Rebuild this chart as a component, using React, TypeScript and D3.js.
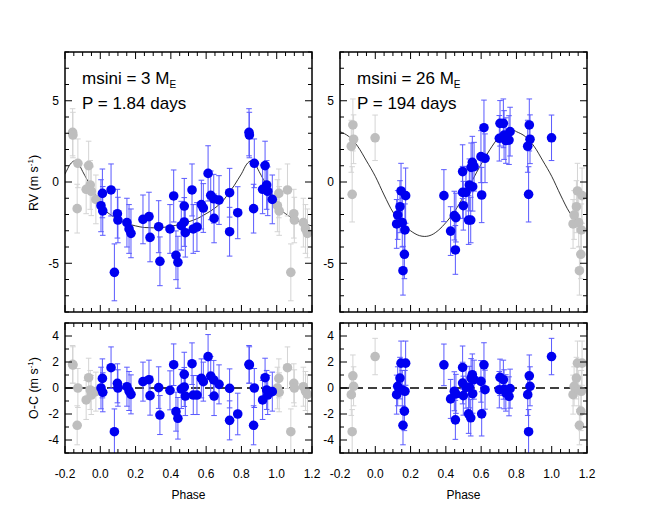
import React from 'react';
import * as d3 from 'd3';

const FONT = '"Liberation Sans", Arial, Helvetica, sans-serif';

// ---- Left planet (P = 1.84 d) ----
const LEFT_PHASE = [0.012,0.004,0.014,0.061,0.080,0.097,0.100,0.151,0.163,0.174,0.242,0.276,0.282,0.331,0.338,0.395,0.416,0.429,0.440,0.459,0.476,0.476,0.482,0.520,0.527,0.548,0.573,0.584,0.611,0.626,0.643,0.645,0.673,0.733,0.733,0.779,0.843,0.845,0.873,0.869,0.934,0.943,0.920,0.949,0.975];
const LEFT_RV = [-0.70,-1.46,-1.78,-0.49,-5.56,-1.95,-2.34,-2.50,-2.89,-3.16,-2.30,-2.13,-3.41,-2.75,-4.88,-2.89,-0.86,-4.51,-4.94,-2.69,-1.48,-2.46,-3.12,-0.49,-2.89,-2.77,-1.39,-1.60,0.53,-0.82,-1.03,-2.24,-1.11,-0.66,-3.06,-1.89,3.06,2.89,1.15,-1.64,1.01,-0.18,-0.45,-0.57,-1.07];
const LEFT_OC = [0.74,0.0,-0.33,1.56,-3.36,0.36,0.0,0.1,-0.23,-0.49,0.49,0.64,-0.59,0.03,-2.08,-0.18,1.79,-1.82,-2.33,-0.08,1.05,0.08,-0.62,1.87,-0.54,-0.54,0.74,0.49,2.41,0.92,0.62,-0.62,0.28,-0.03,-2.49,-2.0,1.82,1.77,0.0,-2.87,0.79,-0.15,-0.92,-0.54,-0.28];
const LEFT_ERR = [1.5,1.6,1.5,1.6,1.75,1.5,1.4,1.5,1.5,1.5,1.5,1.5,1.5,1.6,1.5,1.5,1.6,1.5,1.6,1.5,1.7,1.5,1.5,1.6,1.5,1.5,1.5,1.5,1.7,1.5,1.5,1.5,1.5,1.5,1.5,1.6,1.45,1.4,1.5,1.5,1.5,1.5,1.5,1.5,1.5];
const LEFT_MODEL_PHASE = [0.00,0.05,0.10,0.15,0.20,0.25,0.30,0.35,0.40,0.45,0.50,0.55,0.60,0.65,0.70,0.73,0.76,0.78,0.80,0.83,0.855,0.875,0.90,0.925,0.95,0.975];
const LEFT_MODEL_RV = [-1.45,-1.95,-2.3,-2.55,-2.7,-2.8,-2.82,-2.8,-2.72,-2.62,-2.45,-2.25,-1.95,-1.6,-1.1,-0.65,-0.2,0.15,0.5,1.1,1.3,1.15,0.65,0.15,-0.3,-0.85];

// ---- Right planet (P = 194 d) ----
const RIGHT_PHASE = [0.121,0.127,0.140,0.146,0.153,0.157,0.165,0.168,0.172,0.389,0.427,0.448,0.457,0.454,0.495,0.495,0.499,0.514,0.529,0.541,0.533,0.552,0.543,0.550,0.560,0.599,0.603,0.616,0.622,0.707,0.726,0.703,0.730,0.740,0.758,0.764,0.873,0.877,0.864,0.869,0.999];
const RIGHT_RV = [-2.58,-2.03,-1.52,-0.55,-2.50,-5.46,-4.45,-2.95,-0.84,-0.84,-3.02,-2.07,-2.19,-4.18,0.64,-0.64,-1.46,-0.64,-2.34,-2.34,-0.18,-0.29,0.90,1.21,0.94,1.56,-0.80,3.34,1.46,3.61,3.61,2.69,2.89,2.55,2.58,3.10,3.51,2.63,2.20,-0.76,2.72];
const RIGHT_OC = [-0.51,0.13,0.76,1.91,-0.15,-2.87,-1.78,-0.25,1.91,1.78,-0.84,-0.25,-0.45,-2.45,1.58,0.38,-0.59,0.05,-1.99,-2.29,0.07,-0.44,0.76,1.02,0.64,0.51,-1.99,1.78,-0.13,0.82,0.64,-0.13,-0.1,-0.38,-0.64,-0.05,0.94,0.13,-0.51,-3.36,2.42];
const RIGHT_ERR = [1.5,1.5,1.6,1.7,1.5,1.5,1.5,1.6,1.7,1.6,1.5,1.5,1.5,1.5,1.65,1.6,1.5,1.6,1.5,1.4,1.6,1.5,1.5,1.6,1.5,1.6,1.7,1.7,1.5,1.4,1.5,1.4,1.5,1.4,1.5,1.5,1.6,1.5,1.6,1.7,1.4];
const RIGHT_MODEL_PHASE = [0.00,0.05,0.10,0.15,0.20,0.25,0.28,0.32,0.36,0.40,0.45,0.50,0.55,0.60,0.65,0.70,0.75,0.78,0.80,0.85,0.90,0.95];
const RIGHT_MODEL_RV = [0.35,-0.8,-1.85,-2.5,-3.0,-3.3,-3.35,-3.25,-2.95,-2.5,-1.8,-0.9,0.1,1.1,2.0,2.75,3.15,3.2,3.1,2.8,2.2,1.3];

const X_TICKS = [-0.2, 0, 0.2, 0.4, 0.6, 0.8, 1.0, 1.2];
const X_TICK_LABELS = ['-0.2', '0.0', '0.2', '0.4', '0.6', '0.8', '1.0', '1.2'];
const RV_TICKS = [-5, 0, 5];
const OC_TICKS = [-4, -2, 0, 2, 4];

const BLUE = '#0000f0';
const BLUE_BAR = '#5a5aff';
const GRAY = '#bebebe';
const GRAY_BAR = '#d4d4d4';

type Pt = { p: number; v: number; e: number };

function folded(phase: number[], vals: number[], err: number[]) {
  const blue: Pt[] = phase.map((p, i) => ({ p, v: vals[i], e: err[i] }));
  const gray: Pt[] = [];
  blue.forEach((d) => {
    if (d.p - 1 >= -0.2) gray.push({ p: d.p - 1, v: d.v, e: d.e });
    if (d.p + 1 <= 1.2) gray.push({ p: d.p + 1, v: d.v, e: d.e });
  });
  return { blue, gray };
}

function modelPoints(mp: number[], mv: number[]) {
  const pts: [number, number][] = [];
  [-1, 0, 1].forEach((s) => mp.forEach((p, i) => {
    const q = p + s;
    if (q >= -0.3 && q <= 1.3) pts.push([q, mv[i]]);
  }));
  return pts.sort((a, b) => a[0] - b[0]);
}

function SubPanel(props: {
  id: string; x0: number; x1: number; y0: number; y1: number;
  yDomain: [number, number]; yMajor: number[]; yMinorStep: number;
  phase: number[]; vals: number[]; err: number[];
  model?: [number, number][]; zeroLine?: boolean; showXLabels?: boolean;
}) {
  const { id, x0, x1, y0, y1, yDomain, yMajor, yMinorStep, phase, vals, err, model, zeroLine, showXLabels } = props;
  const x = d3.scaleLinear().domain([-0.2, 1.2]).range([x0, x1]);
  const y = d3.scaleLinear().domain(yDomain).range([y1, y0]);
  const { blue, gray } = folded(phase, vals, err);
  const line = d3.line<[number, number]>().x((d) => x(d[0])).y((d) => y(d[1])).curve(d3.curveMonotoneX);
  const xMinor = d3.range(-0.2, 1.2001, 0.05);
  const yMinor = d3.range(yDomain[0], yDomain[1] + 0.001, yMinorStep);
  const cap = 2.8;
  const bars = (pts: Pt[], color: string) => pts.map((d, i) => (
    <g key={i} stroke={color} strokeWidth={1}>
      <line x1={x(d.p)} x2={x(d.p)} y1={y(d.v - d.e)} y2={y(d.v + d.e)} />
      <line x1={x(d.p) - cap} x2={x(d.p) + cap} y1={y(d.v - d.e)} y2={y(d.v - d.e)} />
      <line x1={x(d.p) - cap} x2={x(d.p) + cap} y1={y(d.v + d.e)} y2={y(d.v + d.e)} />
    </g>
  ));
  const dots = (pts: Pt[], color: string) => pts.map((d, i) => (
    <circle key={i} cx={x(d.p)} cy={y(d.v)} r={4.8} fill={color} />
  ));
  return (
    <g>
      <defs>
        <clipPath id={id}>
          <rect x={x0} y={y0} width={x1 - x0} height={y1 - y0} />
        </clipPath>
      </defs>
      <g clipPath={`url(#${id})`}>
        {zeroLine && <line x1={x0} x2={x1} y1={y(0)} y2={y(0)} stroke="#000" strokeWidth={1.4} strokeDasharray="9,5" />}
        {model && <path d={line(model) || ''} fill="none" stroke="#000" strokeWidth={0.8} />}
        {bars(gray, GRAY_BAR)}
        {dots(gray, GRAY)}
        {bars(blue, BLUE_BAR)}
        {dots(blue, BLUE)}
      </g>
      <rect x={x0} y={y0} width={x1 - x0} height={y1 - y0} fill="none" stroke="#000" strokeWidth={1.5} />
      {xMinor.map((t, i) => {
        const major = X_TICKS.some((m) => Math.abs(m - t) < 1e-6);
        const L = major ? 7 : 4;
        return (
          <g key={'xt' + i} stroke="#000" strokeWidth={1}>
            <line x1={x(t)} x2={x(t)} y1={y1} y2={y1 - L} />
            <line x1={x(t)} x2={x(t)} y1={y0} y2={y0 + L} />
          </g>
        );
      })}
      {yMinor.map((t, i) => {
        const major = yMajor.some((m) => Math.abs(m - t) < 1e-6);
        const L = major ? 7 : 4;
        return (
          <g key={'yt' + i} stroke="#000" strokeWidth={1}>
            <line x1={x0} x2={x0 + L} y1={y(t)} y2={y(t)} />
            <line x1={x1} x2={x1 - L} y1={y(t)} y2={y(t)} />
          </g>
        );
      })}
      {yMajor.map((t, i) => (
        <text key={'yl' + i} x={x0 - 6} y={y(t) + 4.3} textAnchor="end" fontSize={12} fontFamily={FONT}>{t}</text>
      ))}
      {showXLabels && X_TICKS.map((t, i) => (
        <text key={'xl' + i} x={x(t)} y={478} textAnchor="middle" fontSize={12} fontFamily={FONT}>{X_TICK_LABELS[i]}</text>
      ))}
      {showXLabels && (
        <text x={(x0 + x1) / 2} y={499} textAnchor="middle" fontSize={12} fontFamily={FONT}>Phase</text>
      )}
    </g>
  );
}

export default function App() {
  const W = 653, H = 522;
  const TOP: [number, number] = [52, 312];
  const BOT: [number, number] = [323, 453];
  const cols = [
    { key: 'L', x0: 65, x1: 312, phase: LEFT_PHASE, rv: LEFT_RV, oc: LEFT_OC, err: LEFT_ERR,
      model: modelPoints(LEFT_MODEL_PHASE, LEFT_MODEL_RV), mass: '3', per: 'P = 1.84 days' },
    { key: 'R', x0: 340, x1: 587, phase: RIGHT_PHASE, rv: RIGHT_RV, oc: RIGHT_OC, err: RIGHT_ERR,
      model: modelPoints(RIGHT_MODEL_PHASE, RIGHT_MODEL_RV), mass: '26', per: 'P = 194 days' },
  ];
  return (
    <svg width={W} height={H} style={{ position: 'absolute', left: 0, top: 0, background: '#fff' }} fontFamily={FONT}>
      <rect x={0} y={0} width={W} height={H} fill="#fff" />
      {cols.map((c) => (
        <g key={c.key}>
          <SubPanel id={'clip' + c.key + 'T'} x0={c.x0} x1={c.x1} y0={TOP[0]} y1={TOP[1]} yDomain={[-8, 8]}
            yMajor={RV_TICKS} yMinorStep={1} phase={c.phase} vals={c.rv} err={c.err} model={c.model} />
          <SubPanel id={'clip' + c.key + 'B'} x0={c.x0} x1={c.x1} y0={BOT[0]} y1={BOT[1]} yDomain={[-5, 5]}
            yMajor={OC_TICKS} yMinorStep={1} phase={c.phase} vals={c.oc} err={c.err} zeroLine showXLabels />
          <text x={c.x0 + 17} y={84} fontSize={17} fontFamily={FONT}>
            {'msini = ' + c.mass + ' M'}
            <tspan fontSize={10} dy={4}>E</tspan>
          </text>
          <text x={c.x0 + 17} y={109} fontSize={17} fontFamily={FONT}>{c.per}</text>
        </g>
      ))}
      <text transform="translate(38,183) rotate(-90)" textAnchor="middle" fontSize={12.5} fontFamily={FONT}>
        {'RV (m s'}<tspan fontSize={8} dy={-5}>{'-1'}</tspan><tspan dy={5}>{')'}</tspan>
      </text>
      <text transform="translate(38,388) rotate(-90)" textAnchor="middle" fontSize={12.5} fontFamily={FONT}>
        {'O-C (m s'}<tspan fontSize={8} dy={-5}>{'-1'}</tspan><tspan dy={5}>{')'}</tspan>
      </text>
    </svg>
  );
}
